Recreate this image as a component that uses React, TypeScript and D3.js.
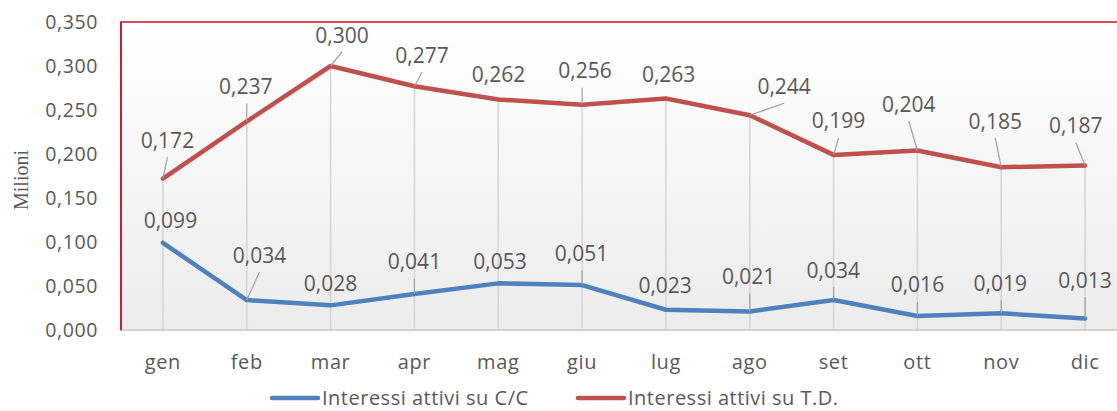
import React from "react";
import * as d3 from "d3";

const months = ["gen", "feb", "mar", "apr", "mag", "giu", "lug", "ago", "set", "ott", "nov", "dic"];
const interessiCC = [0.099, 0.034, 0.028, 0.041, 0.053, 0.051, 0.023, 0.021, 0.034, 0.016, 0.019, 0.013];
const interessiTD = [0.172, 0.237, 0.3, 0.277, 0.262, 0.256, 0.263, 0.244, 0.199, 0.204, 0.185, 0.187];
const yTicks = [0, 0.05, 0.1, 0.15, 0.2, 0.25, 0.3, 0.35];
const seriesNames = ["Interessi attivi su C/C", "Interessi attivi su T.D."];
const yTitle = "Milioni";

// data label layout: [dx, dy, leader?] relative to the point (pixels)
const tdLabelLayout = [
  [4.5, -38.6, 1], [-1, -35, 1], [11.4, -31, 1], [7.6, -31, 1], [0.3, -25.4, 0], [3, -34, 1],
  [2.7, -24.6, 0], [34.4, -29, 1], [5, -34, 1], [-8.7, -46.5, 1], [-6, -46, 1], [-9.3, -40, 1],
];
const ccLabelLayout = [
  [7.5, -22, 0], [12.7, -45, 1], [0, -22, 0], [0, -32, 1], [1.8, -22, 0], [-0.5, -31.6, 1],
  [-0.8, -24, 0], [-1.1, -35, 1], [-0.4, -30, 1], [0, -31, 1], [-1, -30, 1], [0, -38.6, 1],
];

const W = 1117;
const H = 411;
const plot = { left: 121, right: 1127, top: 22, bottom: 330 };
const BLUE = "#4f81bd";
const RED = "#c0504d";
const TEXT = "#595959";
const FONT = "'Open Sans', sans-serif";

const fmt = (v: number) => d3.format(".3f")(v).replace(".", ",");

export default function App() {
  const x = d3.scaleBand<string>().domain(months).range([plot.left, plot.right]);
  const y = d3.scaleLinear().domain([0, 0.35]).range([plot.bottom, plot.top]);
  const cx = (m: string) => (x(m) as number) + x.bandwidth() / 2;
  const line = d3
    .line<number>()
    .x((_, i) => cx(months[i]))
    .y((d) => y(d));

  const renderLabels = (vals: number[], layout: number[][], key: string) =>
    vals.map((v, i) => {
      const px = cx(months[i]);
      const py = y(v);
      const [dx, dy, lead] = layout[i];
      const lx = px + dx;
      const ly = py + dy;
      const ex = Math.abs(dx) > 3 ? lx : px;
      const ey = ly + 17;
      return (
        <g key={key + i}>
          {lead ? <line x1={px} y1={py} x2={ex} y2={ey} stroke="#a0a0a0" strokeWidth={1.2} /> : null}
          <text
            x={lx}
            y={ly}
            dy="0.36em"
            textAnchor="middle"
            fontFamily={FONT}
            fontSize={21}
            fill={TEXT}
          >
            {fmt(v)}
          </text>
        </g>
      );
    });

  const legendY = 398;

  return (
    <svg width={W} height={H} style={{ position: "absolute", left: 0, top: 0, background: "#fff" }}>
      <defs>
        <linearGradient id="bg" x1="0" y1="0" x2="0" y2="1">
          <stop offset="0" stopColor="#ffffff" />
          <stop offset="1" stopColor="#ececec" />
        </linearGradient>
      </defs>
      <rect
        x={plot.left}
        y={plot.top}
        width={plot.right - plot.left}
        height={plot.bottom - plot.top}
        fill="url(#bg)"
        stroke="#c0131c"
        strokeWidth={1.5}
      />
      {/* drop lines */}
      {months.map((m, i) => (
        <line
          key={"drop" + m}
          x1={cx(m)}
          x2={cx(m)}
          y1={y(Math.max(interessiTD[i], interessiCC[i]))}
          y2={plot.bottom}
          stroke="#d4d4d4"
          strokeWidth={1.5}
        />
      ))}
      <line x1={plot.left} x2={plot.right} y1={plot.bottom} y2={plot.bottom} stroke="#d9cfcf" strokeWidth={2} />
      <line x1={plot.left} x2={plot.left} y1={plot.top} y2={plot.bottom} stroke="#c0131c" strokeWidth={1.5} />

      {/* y axis labels */}
      {yTicks.map((t) => (
        <text
          key={"yt" + t}
          x={98}
          y={y(t)}
          dy="0.36em"
          textAnchor="end"
          fontFamily={FONT}
          fontSize={19.5}
          letterSpacing={0.6}
          fill={TEXT}
        >
          {fmt(t)}
        </text>
      ))}
      <text
        transform={`translate(21,180) rotate(-90)`}
        textAnchor="middle"
        dy="0.35em"
        fontFamily="'Liberation Serif', serif"
        fontSize={20}
        fill={TEXT}
      >
        {yTitle}
      </text>

      {/* x axis labels */}
      {months.map((m) => (
        <text
          key={"xl" + m}
          x={cx(m)}
          y={369}
          textAnchor="middle"
          fontFamily={FONT}
          fontSize={20}
          letterSpacing={0.6}
          fill={TEXT}
        >
          {m}
        </text>
      ))}

      {/* series */}
      <path d={line(interessiCC) as string} fill="none" stroke={BLUE} strokeWidth={4.5} strokeLinejoin="round" strokeLinecap="round" />
      <path d={line(interessiTD) as string} fill="none" stroke={RED} strokeWidth={4.5} strokeLinejoin="round" strokeLinecap="round" />

      {renderLabels(interessiTD, tdLabelLayout, "td")}
      {renderLabels(interessiCC, ccLabelLayout, "cc")}

      {/* legend */}
      {[
        { name: seriesNames[0], color: BLUE, x0: 272 },
        { name: seriesNames[1], color: RED, x0: 578 },
      ].map((l) => (
        <g key={l.name}>
          <line x1={l.x0} x2={l.x0 + 46} y1={legendY} y2={legendY} stroke={l.color} strokeWidth={4.5} strokeLinecap="round" />
          <text x={l.x0 + 50} y={legendY} dy="0.36em" fontFamily={FONT} fontSize={20} letterSpacing={0.5} fill={TEXT}>
            {l.name}
          </text>
        </g>
      ))}
    </svg>
  );
}
